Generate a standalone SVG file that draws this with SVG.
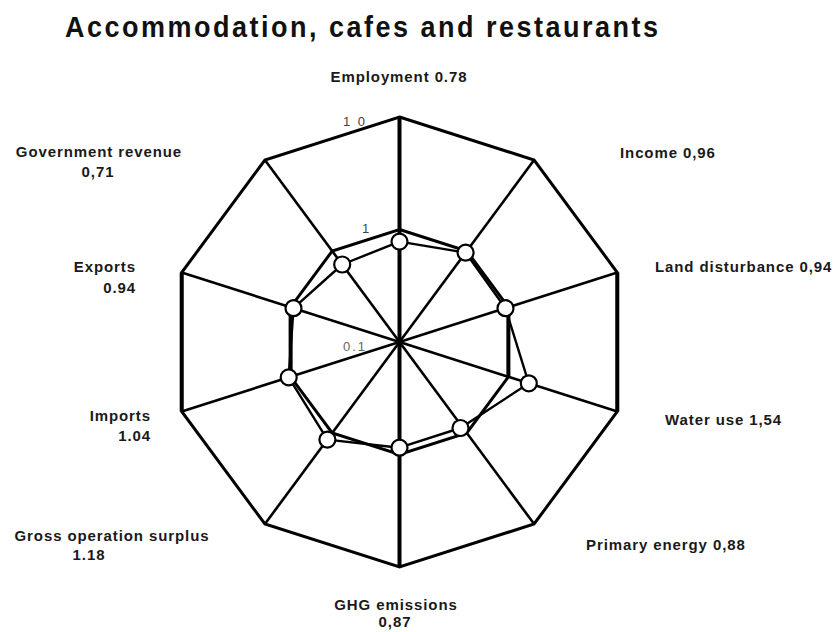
<svg xmlns="http://www.w3.org/2000/svg" width="837" height="632" viewBox="0 0 837 632">
  <style>
    .title { font-family: "Liberation Sans", Arial, sans-serif; font-weight: bold; font-size: 30px; fill: #111; }
    .lbl { font-family: "Liberation Sans", Arial, sans-serif; font-weight: bold; font-size: 15px; letter-spacing: 0.9px; fill: #1a1a1a; }
    .tick { font-family: "Liberation Sans", Arial, sans-serif; font-size: 13px; letter-spacing: 2px; fill: #444; }
    .grid { fill: none; stroke: #000; stroke-width: 3; stroke-linejoin: miter; }
    .spoke { stroke: #000; stroke-width: 2.6; }
    .spoke-v { stroke: #000; stroke-width: 4; }
    .series { fill: none; stroke: #000; stroke-width: 2.4; stroke-linejoin: round; }
    .pt { fill: #fff; stroke: #000; stroke-width: 2.2; }
  </style>

  <rect width="837" height="632" fill="#fff"/>

  <!-- title: slightly narrowed glyphs, wide tracking -->
  <g transform="translate(65 37) scale(0.9 1)">
    <text class="title" x="0" y="0" textLength="659" lengthAdjust="spacing">Accommodation, cafes and restaurants</text>
  </g>

  <!-- radial grid: ten spokes, outer ring = 10, middle ring = 1, centre = 0.1 (log scale) -->
  <g id="connectors">
    <line class="spoke-v" x1="399.5" y1="117" x2="399.5" y2="567"/>
    <line class="spoke" x1="399.5" y1="342" x2="534.1" y2="160"/>
    <line class="spoke" x1="399.5" y1="342" x2="617.3" y2="272.5"/>
    <line class="spoke" x1="399.5" y1="342" x2="617.3" y2="411.5"/>
    <line class="spoke" x1="399.5" y1="342" x2="534.1" y2="524"/>
    <line class="spoke" x1="399.5" y1="342" x2="264.9" y2="524"/>
    <line class="spoke" x1="399.5" y1="342" x2="181.7" y2="411.5"/>
    <line class="spoke" x1="399.5" y1="342" x2="181.7" y2="272.5"/>
    <line class="spoke" x1="399.5" y1="342" x2="264.9" y2="160"/>

    <polygon id="ring-10" class="grid" points="399.5,117 534.1,160 617.3,272.5 617.3,411.5 534.1,524 399.5,567 264.9,524 181.7,411.5 181.7,272.5 264.9,160"/>
    <line stroke="#000" stroke-width="4" x1="617.3" y1="272.5" x2="617.3" y2="411.5"/>
    <line stroke="#000" stroke-width="4" x1="181.7" y1="272.5" x2="181.7" y2="411.5"/>

    <polygon id="ring-1" class="grid" points="399.5,229.5 466.8,251 508.4,307.2 508.4,376.8 466.8,433 399.5,454.5 332.2,433 290.6,376.8 290.6,307.2 332.2,251"/>
    <line stroke="#000" stroke-width="4" x1="508.4" y1="307.2" x2="508.4" y2="376.8"/>
    <line stroke="#000" stroke-width="4" x1="290.6" y1="307.2" x2="290.6" y2="376.8"/>

    <!-- data series -->
    <polygon class="series" points="399.5,241.6 465.6,252.6 505.5,308.2 528.8,383.3 460.5,428 399.5,447.7 327.4,439.6 288.7,377.4 293.5,308.2 342.2,264.5"/>
  </g>

  <!-- scale marks -->
  <g id="scale">
    <text class="tick" x="343" y="126">1 0</text>
    <text class="tick" x="362" y="233">1</text>
    <text class="tick" x="343" y="351" style="fill:#666">0.1</text>
  </g>

  <!-- data points -->
  <g id="points">
    <circle class="pt" cx="399.5" cy="241.6" r="8"/>
    <circle class="pt" cx="465.6" cy="252.6" r="8"/>
    <circle class="pt" cx="505.5" cy="308.2" r="8"/>
    <circle class="pt" cx="528.8" cy="383.3" r="8"/>
    <circle class="pt" cx="460.5" cy="428" r="8"/>
    <circle class="pt" cx="399.5" cy="447.7" r="8"/>
    <circle class="pt" cx="327.4" cy="439.6" r="8"/>
    <circle class="pt" cx="288.7" cy="377.4" r="8"/>
    <circle class="pt" cx="293.5" cy="308.2" r="8"/>
    <circle class="pt" cx="342.2" cy="264.5" r="8"/>
  </g>

  <!-- axis labels -->
  <g id="employment"><text class="lbl" x="399" y="82" text-anchor="middle">Employment 0.78</text></g>
  <g id="income"><text class="lbl" x="620" y="158">Income 0,96</text></g>
  <g id="land-disturbance"><text class="lbl" x="655" y="272">Land disturbance 0,94</text></g>
  <g id="water-use"><text class="lbl" x="665" y="425">Water use 1,54</text></g>
  <g id="primary-energy"><text class="lbl" x="586" y="550">Primary energy 0,88</text></g>
  <g id="ghg-emissions">
    <text class="lbl" x="396" y="610" text-anchor="middle">GHG emissions</text>
    <text class="lbl" x="395" y="627" text-anchor="middle">0,87</text>
  </g>
  <g id="gross-operation-surplus">
    <text class="lbl" x="112" y="541" text-anchor="middle">Gross operation surplus</text>
    <text class="lbl" x="89" y="560" text-anchor="middle">1.18</text>
  </g>
  <g id="imports">
    <text class="lbl" x="151" y="421" text-anchor="end">Imports</text>
    <text class="lbl" x="151" y="441" text-anchor="end">1.04</text>
  </g>
  <g id="exports">
    <text class="lbl" x="136" y="272" text-anchor="end">Exports</text>
    <text class="lbl" x="136" y="293" text-anchor="end">0.94</text>
  </g>
  <g id="government-revenue">
    <text class="lbl" x="99" y="157" text-anchor="middle">Government revenue</text>
    <text class="lbl" x="98" y="177" text-anchor="middle">0,71</text>
  </g>
</svg>
